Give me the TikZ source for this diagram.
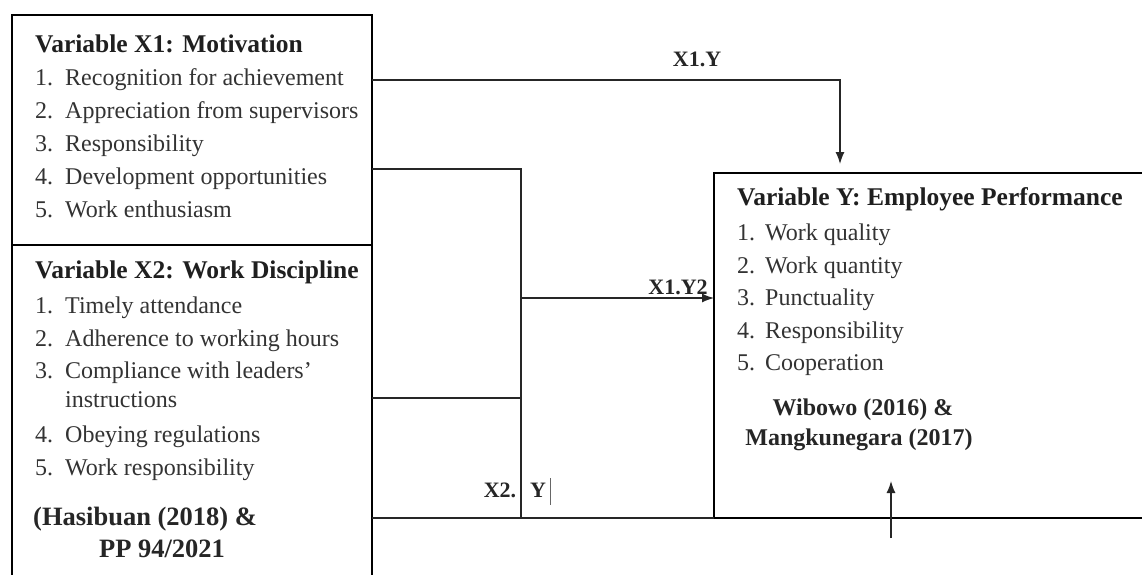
\documentclass[tikz,border=0pt]{standalone}
\usepackage{fontspec}
\setmainfont{Liberation Serif}
\usetikzlibrary{arrows.meta}
\tikzset{
  box/.style={draw=black, line width=2.4pt, inner sep=0pt, outer sep=0pt, anchor=north west},
  conn/.style={draw=black!85, line width=1.3pt},
  arr/.style={-{Latex[length=12pt,width=9pt]}},
  ttl/.style={anchor=base west, inner sep=0pt, font=\fontsize{25.5}{28}\selectfont\bfseries, text=black!88},
  num/.style={anchor=base west, inner sep=0pt, font=\fontsize{24}{28}\selectfont, text=black!80},
  itm/.style={anchor=base west, inner sep=0pt, font=\fontsize{24}{28}\selectfont, text=black!80},
  src/.style={anchor=base, inner sep=0pt, font=\fontsize{24}{28}\selectfont\bfseries, text=black!85},
  bigsrc/.style={anchor=base, inner sep=0pt, font=\fontsize{26.5}{28}\selectfont\bfseries, text=black!85},
  lbl/.style={anchor=base, inner sep=0pt, font=\fontsize{22}{26}\selectfont\bfseries, text=black!85},
}
\begin{document}
\begin{tikzpicture}[x=1pt,y=-1pt]
\clip (0,0) rectangle (1142,574);
\fill[white] (0,0) rectangle (1142,574);
% boxes
\node[box, minimum width=360pt, minimum height=230pt] (x1) at (12,15) {};
\node[box, minimum width=360pt, minimum height=340pt] (x2) at (12,245) {};
\node[box, minimum width=440pt, minimum height=345pt] (y) at (714,173) {};
% X1 text
\node[ttl] (x1t) at (35,52) {Variable X1: Motivation};
\node[num] (x1n1) at (35,85) {1.}; \node[itm] (x1i1) at (65,85) {Recognition for achievement};
\node[num] (x1n2) at (35,118) {2.}; \node[itm] (x1i2) at (65,118) {Appreciation from supervisors};
\node[num] (x1n3) at (35,151) {3.}; \node[itm] (x1i3) at (65,151) {Responsibility};
\node[num] (x1n4) at (35,184) {4.}; \node[itm] (x1i4) at (65,184) {Development opportunities};
\node[num] (x1n5) at (35,217) {5.}; \node[itm] (x1i5) at (65,217) {Work enthusiasm};
% X2 text
\node[ttl] (x2t) at (35,278) {Variable X2: Work Discipline};
\node[num] (x2n1) at (35,313) {1.}; \node[itm] (x2i1) at (65,313) {Timely attendance};
\node[num] (x2n2) at (35,346) {2.}; \node[itm] (x2i2) at (65,346) {Adherence to working hours};
\node[num] (x2n3) at (35,378) {3.}; \node[itm] (x2i3) at (65,378) {Compliance with leaders'};
\node[itm] (x2i3b) at (65,407) {instructions};
\node[num] (x2n4) at (35,442) {4.}; \node[itm] (x2i4) at (65,442) {Obeying regulations};
\node[num] (x2n5) at (35,475) {5.}; \node[itm] (x2i5) at (65,475) {Work responsibility};
\node[bigsrc, anchor=base west] (x2s1) at (33,525) {(Hasibuan (2018) \&};
\node[bigsrc] (x2s2) at (162,557) {PP 94/2021};
% Y text
\node[ttl] (yt) at (737,205) {Variable Y: Employee Performance};
\node[num] (yn1) at (737,240) {1.}; \node[itm] (yi1) at (765,240) {Work quality};
\node[num] (yn2) at (737,273) {2.}; \node[itm] (yi2) at (765,273) {Work quantity};
\node[num] (yn3) at (737,305) {3.}; \node[itm] (yi3) at (765,305) {Punctuality};
\node[num] (yn4) at (737,338) {4.}; \node[itm] (yi4) at (765,338) {Responsibility};
\node[num] (yn5) at (737,370) {5.}; \node[itm] (yi5) at (765,370) {Cooperation};
\node[src] (ys1) at (863,415) {Wibowo (2016) \&};
\node[src] (ys2) at (859,445) {Mangkunegara (2017)};
% connector points
\coordinate (a1) at (840,80);
\coordinate (jt) at (521,169);
\coordinate (jm) at (521,398);
\coordinate (jy) at (521,298);
\coordinate (jb) at (521,518);
\coordinate (u1) at (891,538);
\coordinate (u2) at (891,481);
% connectors
\draw[conn, arr, shorten >=9pt] (x1.east |- a1) -- (a1) -- (y.north -| a1);
\draw[conn] (x1.east |- jt) -- (jt) -- (jb);
\draw[conn] (x2.east |- jm) -- (jm);
\draw[conn, arr] (jy) -- (y.west |- jy);
\draw[conn] (x2.east |- jb) -- (y.south west);
\draw[conn, arr] (u1) -- (u2);
% labels
\node[lbl] (l1) at (697,66) {X1.Y};
\node[lbl] (l2) at (678,294) {X1.Y2};
\node[lbl] (l3) at (500,497) {X2.};
\node[lbl] (l4) at (538,497) {Y};
\coordinate (b1) at (550,478);
\coordinate (b2) at (550,505);
\draw[draw=black!60, line width=0.8pt] (b1) -- (b2);
\end{tikzpicture}
\end{document}
